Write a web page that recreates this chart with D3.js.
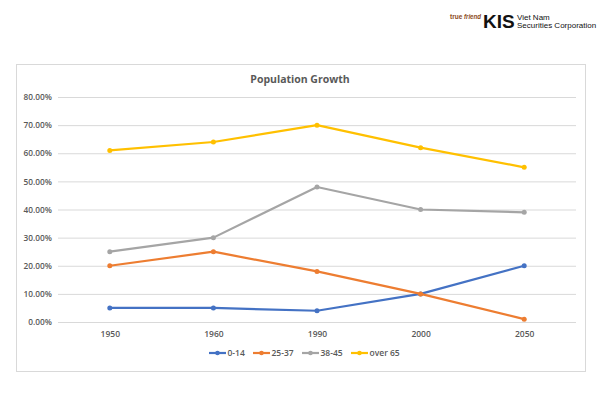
<!DOCTYPE html>
<html><head><meta charset="utf-8">
<script src="https://cdn.jsdelivr.net/npm/d3@7"></script>
<style>body{margin:0;background:#fff}svg{display:block}</style>
</head><body>
<script>
const years = ["1950","1960","1990","2000","2050"];
const seriesNames = ["0-14","25-37","38-45","over 65"];
const s0_14 = [5,5,4,10,20];
const s25_37 = [20,25,18,10,1];
const s38_45 = [25,30,48,40,39];
const sOver65 = [61,64,70,62,55];
const yTicks = [0,10,20,30,40,50,60,70,80];
const colors = ["#4472C4","#ED7D31","#A5A5A5","#FFC000"];
const title = "Population Growth";

const series = [s0_14, s25_37, s38_45, sOver65].map((v,i)=>({name:seriesNames[i], values:v, color:colors[i]}));

const W=600,H=400;
const svg = d3.select("body").append("svg").attr("width",W).attr("height",H);
const font = "'Open Sans', 'Liberation Sans', sans-serif";

// logo
const logo = svg.append("g").attr("font-family","'Liberation Sans', Arial, sans-serif");
logo.append("text").attr("x",450).attr("y",18.5).attr("font-size",6.5).attr("font-weight","bold").attr("fill","#8B4A1C").text("true");
logo.append("text").attr("x",464).attr("y",18.5).attr("font-size",6.5).attr("font-weight","bold").attr("font-style","italic").attr("fill","#8B4A1C")
  .attr("textLength",17).attr("lengthAdjust","spacingAndGlyphs").text("friend");
logo.append("text").attr("x",483).attr("y",28).attr("font-size",19).attr("font-weight","bold").attr("fill","#111").text("KIS");
logo.append("text").attr("x",517).attr("y",19.5).attr("font-size",8).attr("fill","#111").text("Viet Nam");
logo.append("text").attr("x",517).attr("y",28).attr("font-size",8).attr("fill","#111").text("Securities Corporation");

// frame
svg.append("rect").attr("x",16.5).attr("y",64.5).attr("width",569).attr("height",307).attr("fill","#fff").attr("stroke","#D9D9D9").attr("stroke-width",1);

svg.append("text").attr("x",300).attr("y",83).attr("text-anchor","middle").attr("font-family",font)
  .attr("font-size",10.5).attr("font-weight","bold").attr("fill","#595959").text(title);

const x = d3.scalePoint().domain(years).range([58,576]).padding(0.5);
const y = d3.scaleLinear().domain([0,80]).range([322,97]);

const yAxis = d3.axisLeft(y).tickValues(yTicks).tickSize(-(576-58)).tickFormat(d=>d3.format(".2f")(d)+"%");
const gy = svg.append("g").attr("transform","translate(58,0)").call(yAxis);
gy.select(".domain").remove();
gy.selectAll(".tick line").attr("stroke","#D9D9D9").attr("stroke-width",1);
gy.selectAll(".tick text").attr("x",-6).attr("font-family",font).attr("font-size",8.3).attr("font-weight","600").attr("fill","#595959");

const xAxis = d3.axisBottom(x).tickSize(0);
const gx = svg.append("g").attr("transform","translate(0,322)").call(xAxis);
gx.select(".domain").remove();
gx.selectAll(".tick text").attr("dy",0).attr("y",15).attr("font-family",font).attr("font-size",8.5).attr("font-weight","600").attr("fill","#595959");

const line = d3.line().x((d,i)=>x(years[i])).y(d=>y(d));
series.forEach(s=>{
  svg.append("path").datum(s.values).attr("d",line).attr("fill","none").attr("stroke",s.color).attr("stroke-width",2.2).attr("stroke-linejoin","round");
  svg.selectAll(null).data(s.values).enter().append("circle")
    .attr("cx",(d,i)=>x(years[i])).attr("cy",d=>y(d)).attr("r",2.5).attr("fill",s.color);
});

// legend
const legendX = [209, 253, 302, 351];
const lg = svg.append("g").attr("font-family",font).attr("font-size",8.5).attr("font-weight","600").attr("fill","#595959");
series.forEach((s,i)=>{
  const lx = legendX[i], ly = 353;
  lg.append("line").attr("x1",lx).attr("x2",lx+17).attr("y1",ly).attr("y2",ly).attr("stroke",s.color).attr("stroke-width",2.2);
  lg.append("circle").attr("cx",lx+8.5).attr("cy",ly).attr("r",2.3).attr("fill",s.color);
  lg.append("text").attr("x",lx+18.5).attr("y",ly+3).attr("fill","#595959").text(s.name);
});
</script>
</body></html>
